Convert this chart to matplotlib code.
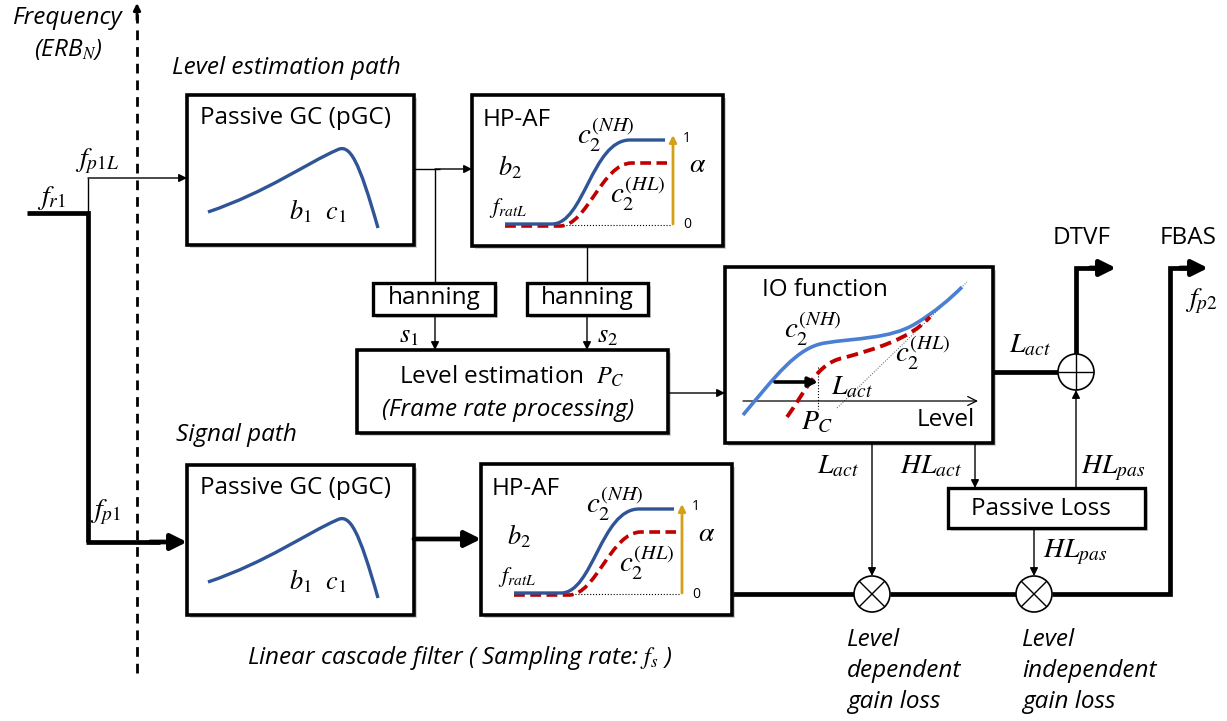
import matplotlib.pyplot as plt
from matplotlib.patches import Rectangle, Circle, PathPatch
from matplotlib.path import Path

plt.rcParams['font.family'] = ['Open Sans', 'DejaVu Sans']
plt.rcParams['mathtext.fontset'] = 'stix'

# Text content of the diagram
freq_label = ['Frequency', r'(ERB$_N$)']
path_labels = ['Level estimation path', 'Signal path']
pgc_title = 'Passive GC (pGC)'
hpaf_title = 'HP-AF'
hanning_title = 'hanning'
level_est_lines = [r'Level estimation  $P_C$', '(Frame rate processing)']
io_title = 'IO function'
outputs = ['DTVF', 'FBAS']
passive_loss = 'Passive Loss'
gain_loss_dep = ['Level', 'dependent', 'gain loss']
gain_loss_indep = ['Level', 'independent', 'gain loss']
cascade_label = r'Linear cascade filter ( Sampling rate: $f_s$ )'

# Curves, relative to the top-left corner of each box
# (start point, then cubic bezier triples: ctrl1, ctrl2, end)
pgc_curve = [(21, 117), (80, 97), (120, 68), (150, 55), (163, 48), (172, 66), (191, 133)]
hpaf_nh = [(33, 129), (80, 129), (80, 129), (80, 129), (112, 129), (120, 45), (158, 45),
           (158, 45), (193, 45), (193, 45)]
hpaf_hl = [(33, 131), (88, 131), (88, 131), (88, 131), (115, 131), (130, 68), (160, 68),
           (160, 68), (195, 68), (195, 68)]
io_nh = [(18, 148), (50, 110), (72, 80), (100, 76), (130, 71), (165, 72), (190, 57),
         (210, 45), (225, 32), (237, 20)]
io_hl = [(62, 150), (80, 125), (92, 96), (118, 91), (150, 82), (185, 72), (205, 50)]

fig = plt.figure(figsize=(12.27, 7.21), dpi=100)
ax = fig.add_axes([0, 0, 1, 1])
ax.set_xlim(0, 1227)
ax.set_ylim(721, 0)
ax.axis('off')

BLUE = '#2f5597'
LBLUE = '#4a7fd4'
RED = '#c00000'
GOLD = '#d4a017'
FS = 17.5


def box(x0, y0, x1, y1, lw=2.6):
    ax.add_patch(Rectangle((x0 + 3, y0 + 3), x1 - x0, y1 - y0, fc='#d0d0d0', ec='none', zorder=1))
    ax.add_patch(Rectangle((x0, y0), x1 - x0, y1 - y0, fc='white', ec='black', lw=lw, zorder=2))


def arrow(x0, y0, x1, y1, lw=1.0, ms=12, style='-|>'):
    ax.annotate('', xy=(x1, y1), xytext=(x0, y0),
                arrowprops=dict(arrowstyle=style, lw=lw, color='black', mutation_scale=ms,
                                shrinkA=0, shrinkB=0), zorder=4)


def line(xs, ys, lw=1.0, z=3):
    ax.plot(xs, ys, color='black', lw=lw, solid_capstyle='butt', solid_joinstyle='miter', zorder=z)


def curve(pts, ox, oy, **kw):
    verts = [(ox + x, oy + y) for x, y in pts]
    codes = [Path.MOVETO] + [Path.CURVE4] * (len(verts) - 1)
    ax.add_patch(PathPatch(Path(verts, codes), fc='none', zorder=5, capstyle='butt', **kw))


def math(x, y, s, size=20, ha='center'):
    ax.text(x, y, s, fontsize=size, ha=ha, va='center', zorder=6)


# frequency axis
for i, s in enumerate(freq_label):
    ax.text(68, 18 + i * 32, s, fontsize=FS, style='italic', ha='center', va='center')
ax.plot([137, 137], [673, 14], color='black', lw=2.0, ls=(0, (3.5, 2.5)), zorder=3)
arrow(137, 20, 137, 3, lw=2.0, ms=10)

ax.text(172, 68, path_labels[0], fontsize=FS, style='italic', ha='left', va='center')
ax.text(176, 435, path_labels[1], fontsize=FS, style='italic', ha='left', va='center')
ax.text(460, 658, cascade_label, fontsize=FS, style='italic', ha='center', va='center')

# input splitting
line([27, 88, 88], [213, 213, 542], lw=3.4)
line([88, 88], [213, 178])
arrow(88, 178, 187, 178)
line([86, 160], [542, 542], lw=3.4)
arrow(150, 542, 187, 542, lw=3.4, ms=24)
math(51, 198, r'$f_{\mathit{r1}}$')
math(97, 161, r'$f_{\mathit{p1L}}$')
math(106, 512, r'$f_{\mathit{p1}}$')

# pGC and HP-AF boxes (two rows)
for oy in [95, 465]:
    box(187, oy, 414, oy + 150)
    ax.text(200, oy + 23, pgc_title, fontsize=FS, ha='left', va='center', zorder=6)
    curve(pgc_curve, 187, oy, ec=BLUE, lw=2.4)
    math(318, oy + 117, r'$b_{\mathit{1}}\ \ c_{\mathit{1}}$', size=19)

for ox, oy in [(472, 95), (481, 464)]:
    box(ox, oy, ox + 251, oy + 151)
    ax.text(ox + 11, oy + 25, hpaf_title, fontsize=FS, ha='left', va='center', zorder=6)
    ax.plot([ox + 88, ox + 198], [oy + 130, oy + 130], color='black', lw=0.8, ls=':', zorder=4)
    curve(hpaf_hl, ox, oy, ec=RED, lw=2.6, ls=(0, (3, 1.5)))
    curve(hpaf_nh, ox, oy, ec=BLUE, lw=2.4)
    ax.annotate('', xy=(ox + 201, oy + 40), xytext=(ox + 201, oy + 129),
                arrowprops=dict(arrowstyle='-|>', lw=2.0, color=GOLD, mutation_scale=10,
                                shrinkA=0, shrinkB=0), zorder=5)
    ax.text(ox + 215, oy + 43, '1', fontsize=10, ha='center', va='center')
    ax.text(ox + 215, oy + 130, '0', fontsize=10, ha='center', va='center')
    math(ox + 134, oy + 40, r'$c_2^{(NH)}$', size=21)
    math(ox + 166, oy + 99, r'$c_2^{(HL)}$', size=21)
    math(ox + 226, oy + 70, r'$\alpha$', size=20)
    math(ox + 38, oy + 73, r'$b_2$', size=19)
    math(ox + 36, oy + 113, r'$f_{\mathit{ratL}}$', size=16)

# connections between the boxes
line([414, 440], [169, 169])
arrow(435, 169, 472, 169)
line([435, 435], [169, 283])
line([587, 587], [246, 283])
arrow(414, 539, 481, 539, lw=3.4, ms=24)

# hanning windows
for x0, x1 in [(373, 495), (527, 648)]:
    box(x0, 283, x1, 315, lw=2.4)
    ax.text((x0 + x1) / 2, 298, hanning_title, fontsize=FS, ha='center', va='center', zorder=6)
arrow(435, 315, 435, 350)
arrow(587, 315, 587, 350)
math(409, 336, r'$s_{\mathit{1}}$', size=19)
math(608, 336, r'$s_{\mathit{2}}$', size=19)

# level estimation
box(357, 350, 668, 433)
ax.text(512, 377, level_est_lines[0], fontsize=FS, ha='center', va='center', zorder=6)
ax.text(508, 410, level_est_lines[1], fontsize=FS, style='italic', ha='center', va='center', zorder=6)
arrow(668, 393, 725, 393)

# IO function box
ix, iy = 725, 267
box(ix, iy, 993, 443)
ax.text(ix + 37, iy + 23, io_title, fontsize=FS, ha='left', va='center', zorder=6)
ax.plot([ix + 112, ix + 242], [iy + 141, iy + 15], color='#555555', lw=0.7, ls=':', zorder=4)
ax.annotate('', xy=(ix + 253, iy + 134), xytext=(ix + 18, iy + 134),
            arrowprops=dict(arrowstyle='->', lw=0.9, color='black', mutation_scale=16,
                            shrinkA=0, shrinkB=0), zorder=4)
ax.plot([ix + 93, ix + 93], [iy + 100, iy + 142], color='black', lw=0.8, ls=':', zorder=4)
curve(io_nh, ix, iy, ec=LBLUE, lw=2.6)
curve(io_hl, ix, iy, ec=RED, lw=2.8, ls=(0, (3, 1.5)))
ax.annotate('', xy=(ix + 93, iy + 115), xytext=(ix + 50, iy + 115),
            arrowprops=dict(arrowstyle='-|>', lw=2.6, color='black', mutation_scale=14,
                            shrinkA=0, shrinkB=0), zorder=6)
math(ix + 88, iy + 62, r'$c_2^{(NH)}$', size=21)
math(ix + 198, iy + 86, r'$c_2^{(HL)}$', size=21)
math(ix + 127, iy + 120, r'$L_{\mathit{act}}$')
math(ix + 92, iy + 155, r'$P_C$')
ax.text(ix + 250, iy + 153, 'Level', fontsize=FS, ha='right', va='center', zorder=6)

# right side: adder, multipliers, outputs
R = 18
line([993, 1058], [372, 372], lw=3.4)
ax.add_patch(Circle((1076, 372), R, fc='white', ec='black', lw=1.2, zorder=5))
line([1058, 1094], [372, 372], lw=1.0, z=6)
line([1076, 1076], [354, 390], lw=1.0, z=6)
math(1030, 345, r'$L_{\mathit{act}}$')
line([1076, 1076, 1100], [354, 268, 268], lw=3.4)
arrow(1090, 268, 1116, 268, lw=3.4, ms=24)
ax.text(1082, 238, outputs[0], fontsize=FS, ha='center', va='center')
ax.text(1188, 238, outputs[1], fontsize=FS, ha='center', va='center')

line([733, 854], [594, 594], lw=3.4)
line([890, 1016], [594, 594], lw=3.4)
line([1052, 1170, 1170, 1190], [594, 594, 268, 268], lw=3.4)
arrow(1180, 268, 1208, 268, lw=3.4, ms=24)
math(1201, 301, r'$f_{\mathit{p2}}$')

for cx in [872, 1034]:
    ax.add_patch(Circle((cx, 594), R, fc='white', ec='black', lw=1.2, zorder=5))
    d = R * 0.707
    line([cx - d, cx + d], [594 - d, 594 + d], z=6)
    line([cx - d, cx + d], [594 + d, 594 - d], z=6)

arrow(872, 443, 872, 576)
math(838, 466, r'$L_{\mathit{act}}$')
arrow(975, 443, 975, 488)
math(931, 466, r'$HL_{\mathit{act}}$')
box(948, 488, 1145, 528, lw=2.4)
ax.text(1041, 509, passive_loss, fontsize=FS, ha='center', va='center', zorder=6)
arrow(1076, 488, 1076, 390)
math(1113, 468, r'$HL_{\mathit{pas}}$')
arrow(1034, 528, 1034, 576)
math(1075, 552, r'$HL_{\mathit{pas}}$')

for x0, lines in [(847, gain_loss_dep), (1022, gain_loss_indep)]:
    for i, s in enumerate(lines):
        ax.text(x0, 640 + i * 31, s, fontsize=FS, style='italic', ha='left', va='center')

fig.savefig('out.png', dpi=100)
